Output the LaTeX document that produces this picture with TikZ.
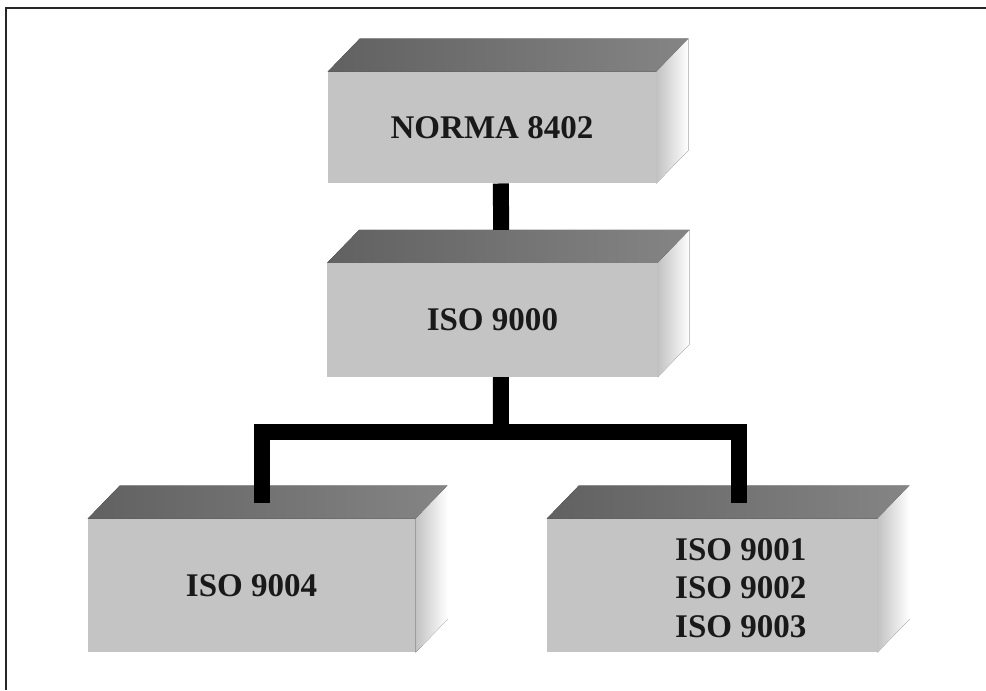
\documentclass[tikz,border=0pt]{standalone}
\usepackage{fontspec}
\setmainfont{Liberation Serif}
\usetikzlibrary{calc}

\begin{document}
\begin{tikzpicture}[
  scale=1,
  front/.style={rectangle, fill=black!23, draw=none, inner sep=0pt,
    font=\bfseries\fontsize{23.5}{27.4}\selectfont, text=black!90},
  lbl/.style={inner sep=0pt, font=\bfseries\fontsize{23.5}{27.4}\selectfont, text=black!90},
  topface/.style={left color=black!62, right color=black!48},
  sideface/.style={left color=black!24, right color=white},
  bar/.style={line width=0.4cm, draw=black, line join=miter}
]
  \useasboundingbox (0,0) rectangle (24.65,17.25);
  \def\dx{0.8cm}
  \def\dy{0.825cm}

  % Marco
  \draw[line width=1.4pt, black!85] (0.16,0) -- (0.16,17.05) -- (24.65,17.05);

  % Caras frontales
  \node[front, minimum width=8.2cm, minimum height=2.78cm] (norma) at (12.3,14.06) {NORMA 8402};
  \node[front, minimum width=8.25cm, minimum height=2.84cm] (iso0) at (12.31,9.25) {ISO 9000};
  \node[front, minimum width=8.18cm, minimum height=3.33cm] (iso4) at (6.29,2.61) {ISO 9004};
  \node[front, minimum width=8.25cm, minimum height=3.33cm] (iso123) at (17.8,2.61) {};

  % Caras superior y lateral
  \foreach \n in {norma,iso0,iso4,iso123} {
    \fill[topface] (\n.north west) -- ++(\dx,\dy) -- ([xshift=\dx,yshift=\dy]\n.north east) -- (\n.north east) -- cycle;
    \fill[sideface] (\n.north east) -- ++(\dx,\dy) -- ([xshift=\dx,yshift=\dy]\n.south east) -- (\n.south east) -- cycle;
  }

  % Texto de la caja derecha
  \node[lbl, align=center] (iso123txt) at ([xshift=0.72cm,yshift=-0.06cm]iso123.center) {ISO 9001\\ISO 9002\\ISO 9003};

  % Conexiones
  \coordinate (bus) at (12.52,6.46);
  \draw[bar] ([xshift=2.2mm]norma.south) -- ([xshift=2.2mm,yshift=\dy]iso0.north);
  \draw[bar] ([xshift=2.1mm]iso0.south) -- (bus);
  \draw[bar] ([xshift=2.6mm,yshift=4mm]iso4.north) |- (bus) -| ([xshift=6.8mm,yshift=4mm]iso123.north);
\end{tikzpicture}
\end{document}
